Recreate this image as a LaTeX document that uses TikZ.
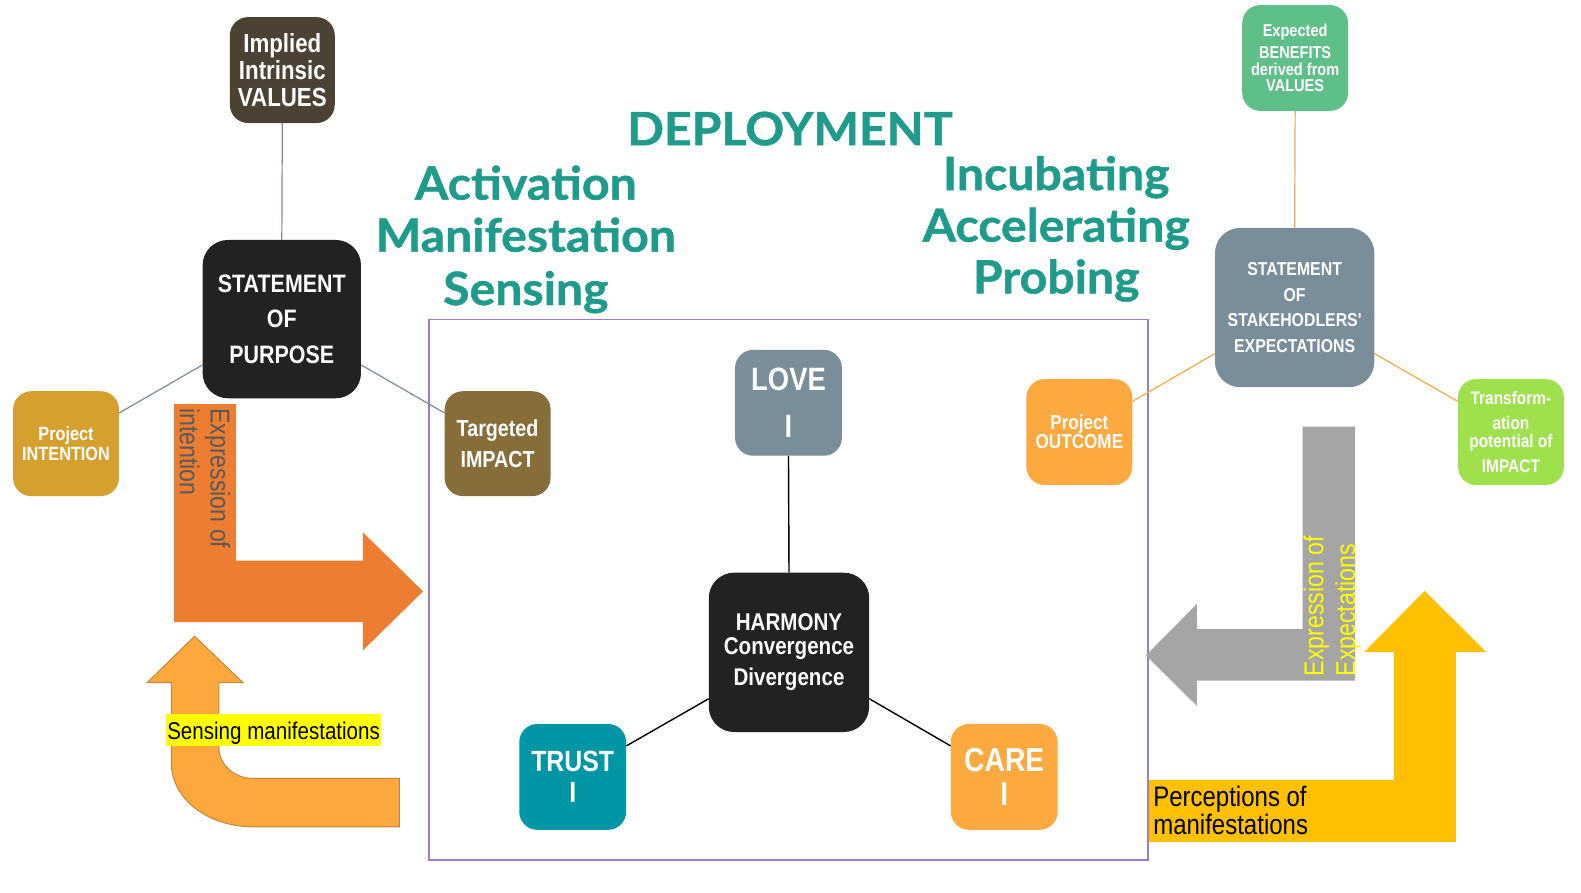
\documentclass[tikz,border=0pt]{standalone}
\usepackage{fontspec}
\newfontfamily\titlefont{Lato}[FakeStretch=1.05, FakeBold=1]
\newfontfamily\condfont{Liberation Sans}[FakeStretch=0.85]
\definecolor{cTeal}{RGB}{30,155,138}
\definecolor{cValBrown}{RGB}{75,66,51}
\definecolor{cDark}{RGB}{34,34,34}
\definecolor{cGold}{RGB}{214,160,46}
\definecolor{cTBrown}{RGB}{134,109,58}
\definecolor{cSlate}{RGB}{121,142,153}
\definecolor{cLineGray}{RGB}{122,142,154}
\definecolor{cGreen}{RGB}{95,191,136}
\definecolor{cOrange}{RGB}{252,169,64}
\definecolor{cLime}{RGB}{159,224,77}
\definecolor{cTealBox}{RGB}{0,150,166}
\definecolor{cPurple}{RGB}{160,124,200}
\definecolor{cArrOrange}{RGB}{237,125,49}
\definecolor{cLightOrange}{RGB}{252,168,60}
\definecolor{cLightOrangeEdge}{RGB}{196,135,58}
\definecolor{cArrGray}{RGB}{165,165,165}
\definecolor{cArrGold}{RGB}{255,192,0}
\definecolor{cTextGray}{RGB}{90,90,90}
\definecolor{cYellow}{RGB}{255,255,0}
\begin{document}
\begin{tikzpicture}[x=1pt,y=-1pt,
  box/.style={rounded corners=18pt, inner sep=0pt, align=center, text=white,
    minimum width=105pt, minimum height=105pt},
  bigbox/.style={box, rounded corners=25pt, minimum width=158pt, minimum height=158pt},
  titletxt/.style={text=cTeal, font=\titlefont\bfseries\fontsize{45.5}{45.5}\selectfont, anchor=base, inner sep=0pt},
  conn/.style={line width=1.2pt},
  rottxt/.style={anchor=base west, inner sep=0pt, font=\condfont\fontsize{27}{27}\selectfont}
]
\useasboundingbox (0,0) rectangle (1568,885);

% frame
\draw[cPurple, line width=1.2pt] (425.5,317) rectangle (1138.5,853);

% arrows
\fill[cArrOrange] (172.6,400.7) -- (234,400.7) -- (234,556) -- (360,556) -- (360,528)
  -- (419.5,586.5) -- (360,645) -- (360,617) -- (172.6,617) -- cycle;
\draw[fill=cLightOrange, draw=cLightOrangeEdge, line width=1pt]
  (193,631) -- (241,677) -- (217,677) -- (217,741)
  .. controls (217,758) and (232,772) .. (251,772) -- (396,772) -- (396,820) -- (251,820)
  .. controls (206,820) and (170,792) .. (170,757) -- (170,677) -- (146,677) -- cycle;
\fill[cArrGray] (1292,423) -- (1344,423) -- (1344,675) -- (1187,675) -- (1187,700)
  -- (1136.5,650) -- (1187,599) -- (1187,624) -- (1292,624) -- cycle;
\fill[cArrGold] (1139.6,773.5) -- (1382.5,773.5) -- (1382.5,646.7) -- (1353,646.7)
  -- (1413,586) -- (1474,646.7) -- (1444,646.7) -- (1444,835) -- (1139.6,835) -- cycle;

% titles
\node[titletxt] (t0) at (783.5,144) {DEPLOYMENT};
\node[titletxt] (a1) at (521.5,198) {Activation};
\node[titletxt] (a2) at (521.5,249.6) {Manifestation};
\node[titletxt] (a3) at (521.5,302.5) {Sensing};
\node[titletxt] (b1) at (1047.5,188.5) {Incubating};
\node[titletxt] (b2) at (1047.5,239.7) {Accelerating};
\node[titletxt] (b3) at (1047.5,291) {Probing};

% left cluster
\node[box, fill=cValBrown, minimum width=104pt, font={\condfont\bfseries\fontsize{26}{27}\selectfont}]
  (vals) at (280,69.5) {Implied\\Intrinsic\\VALUES};
\node[bigbox, fill=cDark, minimum width=157pt, minimum height=157pt, font={\condfont\bfseries\fontsize{25}{35.5}\selectfont}]
  (sop) at (279.5,316.5) {STATEMENT\\OF\\PURPOSE};
\node[box, fill=cGold, minimum height=104pt, font={\condfont\bfseries\fontsize{19}{19}\selectfont}]
  (intent) at (65.5,440) {Project\\INTENTION};
\node[box, fill=cTBrown, minimum height=104pt, font={\condfont\bfseries\fontsize{23}{31}\selectfont}]
  (target) at (493.5,440) {Targeted\\IMPACT};
\draw[conn, cLineGray] (vals.south) -- (sop.north);
\draw[conn, cLineGray] (sop.210) -- (intent.30);
\draw[conn, cLineGray] (sop.330) -- (target.150);

% right cluster
\node[box, fill=cGreen, font={\condfont\bfseries\fontsize{17}{16.5}\selectfont}]
  (expect) at (1284.5,57.5) {Expected\\[5.5pt]BENEFITS\\derived from\\VALUES};
\node[bigbox, fill=cSlate, font={\condfont\bfseries\fontsize{18.5}{25.3}\selectfont}]
  (stake) at (1284,305) {STATEMENT\\OF\\STAKEHODLERS'\\EXPECTATIONS};
\node[box, fill=cOrange, font={\condfont\bfseries\fontsize{20}{18}\selectfont}]
  (outcome) at (1070.5,428.5) {Project\\OUTCOME};
\node[box, fill=cLime, font={\condfont\bfseries\fontsize{18}{18}\selectfont}]
  (transf) at (1498.5,428.5) {Transform-\\[7pt]ation\\potential of\\[7pt]IMPACT};
\draw[conn, cOrange] (expect.south) -- (stake.north);
\draw[conn, cOrange] (stake.210) -- (outcome.30);
\draw[conn, cOrange] (stake.330) -- (transf.150);

% centre cluster
\node[box, fill=cSlate, minimum width=106pt, font={\condfont\bfseries\fontsize{32}{46}\selectfont}]
  (love) at (782,399.5) {LOVE\\I};
\node[bigbox, fill=cDark, minimum width=159pt, font={\condfont\bfseries\fontsize{24}{24}\selectfont}]
  (harmony) at (782.5,647) {HARMONY\\Convergence\\[7pt]Divergence};
\node[box, fill=cTealBox, minimum width=106pt, font={\condfont\bfseries\fontsize{29}{30}\selectfont}]
  (trust) at (568,770.5) {TRUST\\I};
\node[box, fill=cOrange, minimum width=106pt, font={\condfont\bfseries\fontsize{33}{34}\selectfont}]
  (care) at (996,770.5) {CARE\\I};
\draw[line width=1.4pt] (love.south) -- (harmony.north);
\draw[line width=1.4pt] (harmony.210) -- (trust.30);
\draw[line width=1.4pt] (harmony.330) -- (care.150);

% arrow labels
\node[rottxt, rotate=-90, text=cTextGray] (exi1) at (209,404.6) {Expression of};
\node[rottxt, rotate=-90, text=cTextGray] (exi2) at (178.5,404.6) {intention};
\node[rottxt, rotate=90, text=cYellow] (exe1) at (1312.4,671) {Expression of};
\node[rottxt, rotate=90, text=cYellow] (exe2) at (1344,671) {Expectations};
\node[anchor=base west, fill=cYellow, inner xsep=1pt, inner ysep=0pt, text height=25pt, text depth=7pt,
  font=\condfont\fontsize{24}{24}\selectfont] (sens) at (164.7,733) {Sensing manifestations};
\node[anchor=base west, inner sep=0pt, font=\condfont\fontsize{28}{29}\selectfont] (perc1) at (1143.6,800) {Perceptions of};
\node[anchor=base west, inner sep=0pt, font=\condfont\fontsize{28}{29}\selectfont] (perc2) at (1143.6,828) {manifestations};
\end{tikzpicture}
\end{document}
